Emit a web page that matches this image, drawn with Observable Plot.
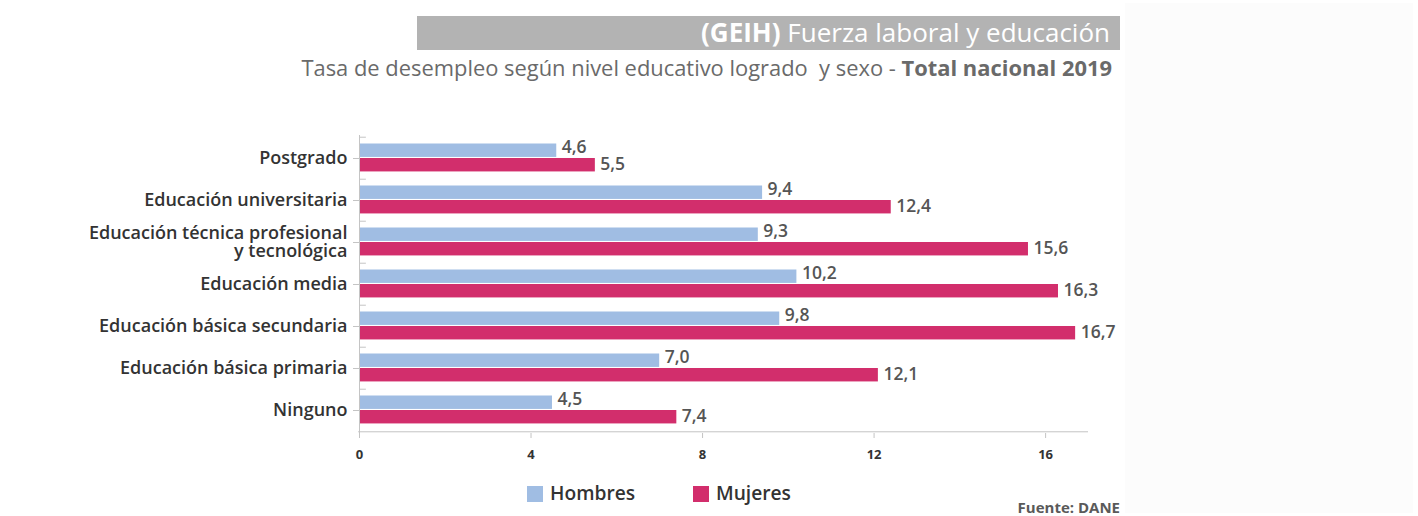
<!DOCTYPE html>
<html><head><meta charset="utf-8">
<script src="https://cdn.jsdelivr.net/npm/d3@7"></script>
<script src="https://cdn.jsdelivr.net/npm/@observablehq/plot@0.6"></script>
<style>
body{margin:0;background:#fff;font-family:"Open Sans",sans-serif;}
#wrap{position:relative;width:1418px;height:516px;overflow:hidden;background:#fff}
#panel{position:absolute;left:1125px;top:3px;width:288px;height:510px;background:#fcfcfc}
#titlebar{position:absolute;left:417px;top:16px;width:703px;height:34px;background:#b3b3b3;color:#fff;font-size:26px;text-align:right;line-height:33px;box-sizing:border-box;padding-right:10px;white-space:nowrap}
#subtitle{position:absolute;left:0;top:54px;width:1112px;text-align:right;font-size:21.9px;line-height:27px;color:#6a6a6a;white-space:pre}
#chart{position:absolute;left:0;top:110px}
.leg{position:absolute;top:479px;font-size:19.2px;font-weight:600;color:#333;line-height:28px;white-space:nowrap}
.sw{display:inline-block;width:16px;height:16px;vertical-align:-2px;margin-right:7px}
#fuente{position:absolute;left:0;width:1120px;top:497px;text-align:right;font-size:15px;font-weight:700;color:#5a5a5a;line-height:20px}
</style></head>
<body>
<div id="wrap">
  <div id="panel"></div>
  <div id="titlebar"><b>(GEIH)</b> Fuerza laboral y educación</div>
  <div id="subtitle">Tasa de desempleo según nivel educativo logrado  y sexo - <b>Total nacional 2019</b></div>
  <div id="chart"></div>
  <div class="leg" style="left:527px"><span class="sw" style="background:#a0bde3"></span>Hombres</div>
  <div class="leg" style="left:693px"><span class="sw" style="background:#d22e6c"></span>Mujeres</div>
  <div id="fuente">Fuente: DANE</div>
</div>
<script>
const categories = ["Postgrado","Educación universitaria","Educación técnica profesional\ny tecnológica","Educación media","Educación básica secundaria","Educación básica primaria","Ninguno"];
const hombres = [4.6, 9.4, 9.3, 10.2, 9.8, 7.0, 4.5];
const mujeres = [5.5, 12.4, 15.6, 16.3, 16.7, 12.1, 7.4];
const series = ["Hombres","Mujeres"];
const colors = ["#a0bde3","#d22e6c"];
const xTicks = [0, 4, 8, 12, 16];

const H = 360, mt = 25, mb = 37;
const bw = (H - mt - mb) / categories.length;
const fmt = v => d3.format(".1f")(v).replace(".", ",");

const dataH = categories.map((c, i) => ({cat: c, v: hombres[i]}));
const dataM = categories.map((c, i) => ({cat: c, v: mujeres[i]}));

const chart = Plot.plot({
  width: 1418, height: H,
  marginLeft: 359, marginRight: 330, marginTop: mt, marginBottom: mb,
  style: {fontFamily: "Open Sans", background: "transparent", overflow: "visible"},
  x: {domain: [0, 17]},
  y: {domain: categories, padding: 0},
  marks: [
    Plot.ruleY(categories, {y: d => d, x1: 0, x2: 0.16, dy: -bw/2, stroke: "#c4c4c4"}),
    Plot.ruleY(categories, {y: d => d, x1: -0.14, x2: 0, stroke: "#c4c4c4"}),
    Plot.barX(dataH, {y: "cat", x: "v", fill: colors[0], insetTop: 6.5, insetBottom: bw - 20.5}),
    Plot.barX(dataM, {y: "cat", x: "v", fill: colors[1], insetTop: 21, insetBottom: bw - 35}),
    Plot.ruleX([0], {stroke: "#c4c4c4"}),
    Plot.ruleY([categories[categories.length-1]], {y: d => d, x1: -0.02, x2: 17, dy: bw/2, stroke: "#c4c4c4"}),
    Plot.text(dataH, {y: "cat", x: "v", text: d => fmt(d.v), textAnchor: "start", dx: 5, dy: -bw/2 + 10.5, fontSize: 17.5, fontWeight: 600, fill: "#555"}),
    Plot.text(dataM, {y: "cat", x: "v", text: d => fmt(d.v), textAnchor: "start", dx: 5, dy: -bw/2 + 27, fontSize: 17.5, fontWeight: 600, fill: "#555"}),
    Plot.axisY({tickSize: 0, tickPadding: 12, fontSize: 18, fontWeight: 600, lineHeight: 1.0, color: "#333", label: null}),
    Plot.axisX({ticks: xTicks, tickSize: 5, tickPadding: 11, fontSize: 13, fontWeight: 700, stroke: "#c4c4c4", color: "#333", label: null, tickFormat: d => String(d)})
  ]
});
document.getElementById("chart").appendChild(chart);
</script>
</body></html>
